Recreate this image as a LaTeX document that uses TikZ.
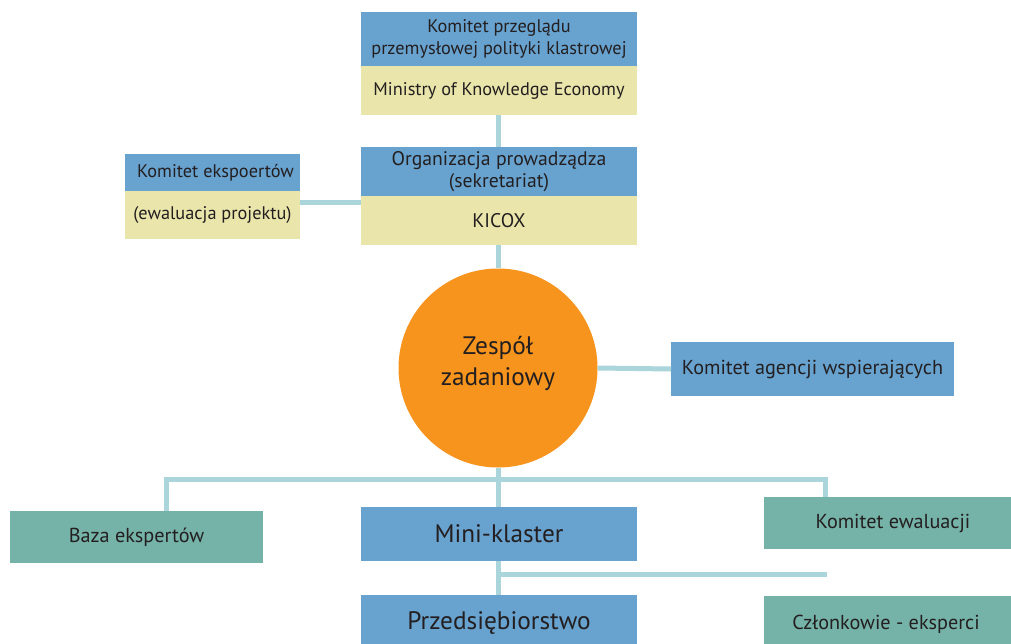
\documentclass[tikz,border=0pt]{standalone}
\usepackage{fontspec}
\setmainfont{PT Sans}
\usetikzlibrary{calc}
\definecolor{boxblue}{HTML}{68A2CF}
\definecolor{boxsand}{HTML}{EAE5AA}
\definecolor{boxteal}{HTML}{75B2A7}
\definecolor{linkblue}{HTML}{A9D5DB}
\definecolor{ballorange}{HTML}{F7941D}
\definecolor{ink}{HTML}{231F20}
\tikzset{
  panel/.style={rectangle, inner sep=0pt, outer sep=0pt, text=ink, align=center, font=\fontsize{18.3}{22}\selectfont},
  bluepanel/.style={panel, fill=boxblue},
  sandpanel/.style={panel, fill=boxsand},
  tealpanel/.style={panel, fill=boxteal},
  midtext/.style={font=\fontsize{19.7}{21.5}\selectfont},
  plaintext/.style={font=\fontsize{20.2}{24}\selectfont},
  bigtext/.style={font=\fontsize{25.3}{31}\selectfont},
  link/.style={draw=linkblue, line width=5pt},
}
\begin{document}
\begin{tikzpicture}[x=1pt, y=-1pt]
\useasboundingbox[fill=white] (0,0) rectangle (1011,643);

% junction points of the connectors
\coordinate (bus) at (498,479);
\coordinate (tail) at (827,574);
\coordinate (split) at (498,574);
\coordinate (sideY) at (0,202);

% top: ministry committee
\node[bluepanel, minimum width=276, minimum height=54] (revA) at (499,39) {Komitet przeglądu\\przemysłowej polityki klastrowej};
\node[sandpanel, minimum width=276, minimum height=49, anchor=north] (revB) at (revA.south) {Ministry of Knowledge Economy};

% secretariat
\node[bluepanel, midtext, minimum width=276, minimum height=49] (orgA) at (499,171.5) {Organizacja prowadządza\\(sekretariat)};
\node[sandpanel, midtext, minimum width=276, minimum height=49, anchor=north] (orgB) at (orgA.south) {KICOX};

% expert committee
\node[bluepanel, minimum width=175, minimum height=37] (expA) at (212.5,172.5) {\hspace*{6pt}Komitet ekspoertów};
\node[sandpanel, minimum width=175, minimum height=48, anchor=north] (expB) at (expA.south) {(ewaluacja projektu)};

% task force
\node[circle, fill=ballorange, minimum size=199, inner sep=0pt] (team) at (498,368) {};
\node[text=ink, align=center, bigtext] (teamtext) at ([yshift=5pt]team.center) {Zespół\\zadaniowy};

% supporting agencies
\node[bluepanel, plaintext, minimum width=283, minimum height=54] (agen) at (812.5,369) {Komitet agencji wspierających};

% lower level
\node[tealpanel, plaintext, minimum width=253, minimum height=52] (baza) at (136.5,537) {Baza ekspertów};
\node[bluepanel, bigtext, minimum width=276, minimum height=54] (mini) at (499,534) {Mini-klaster};
\node[tealpanel, plaintext, minimum width=258, minimum height=52] (ewal) at (893,523) {Komitet ewaluacji};
\node[bluepanel, bigtext, minimum width=276, minimum height=56] (przed) at (499,623) {Przedsiębiorstwo};
\node[tealpanel, plaintext, minimum width=258, minimum height=56] (czl) at (893,624) {Członkowie - eksperci\hspace*{14pt}};

% connectors
\draw[link] (revB.south -| team.north) -- (orgA.north -| team.north);
\draw[link] (orgB.south -| team.north) -- (team.north);
\draw[link] (expB.east |- sideY) -- (orgB.west |- sideY);
\draw[link] (team.east) -- (agen.west);
\draw[link] (team.south) -- (mini.north -| team.south);
\draw[link] ([xshift=29.5pt]baza.north) |- (bus) -| ([xshift=-68pt]ewal.north);
\draw[link] (mini.south -| team.south) -- (przed.north -| team.south);
\draw[link] (split) -- (tail);
\end{tikzpicture}
\end{document}
